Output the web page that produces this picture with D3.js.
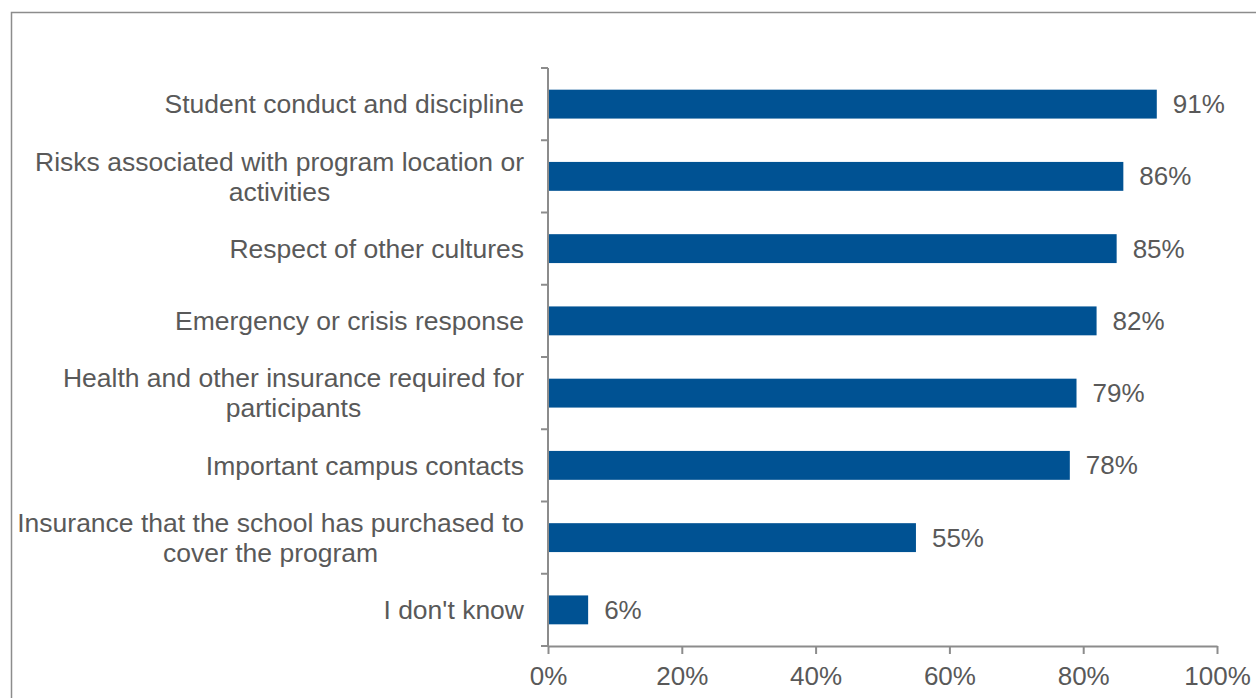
<!DOCTYPE html>
<html>
<head>
<meta charset="utf-8">
<script src="https://cdn.jsdelivr.net/npm/d3@7"></script>
<style>
  html, body { margin: 0; padding: 0; background: #fff; }
  svg { display: block; }
  text { font-family: "Liberation Sans", Arial, sans-serif; fill: #595959; }
</style>
</head>
<body>
<svg id="chart" width="1256" height="698"></svg>
<script>
// Topics covered (one array entry per line of the label)
const categories = [
  ["Student conduct and discipline"],
  ["Risks associated with program location or", "activities"],
  ["Respect of other cultures"],
  ["Emergency or crisis response"],
  ["Health and other insurance required for", "participants"],
  ["Important campus contacts"],
  ["Insurance that the school has purchased to", "cover the program"],
  ["I don't know"]
];
const values = [91, 86, 85, 82, 79, 78, 55, 6];
const tickValues = [0, 20, 40, 60, 80, 100];

const svg = d3.select("#chart");
const W = 1256, H = 698;
const margin = { left: 548, right: 39, top: 68, bottom: 52 };
const fontSize = 26;

// outer frame
svg.append("rect")
  .attr("x", 11.5).attr("y", 12.5)
  .attr("width", W).attr("height", H)
  .attr("fill", "none").attr("stroke", "#8c8c8c").attr("stroke-width", 1.5);

const x = d3.scaleLinear().domain([0, 100]).range([margin.left, W - margin.right]);
const y = d3.scaleBand()
  .domain(d3.range(categories.length))
  .range([margin.top, H - margin.bottom])
  .paddingInner(0.6).paddingOuter(0.3);

// bars
svg.append("g").selectAll("rect")
  .data(values)
  .join("rect")
  .attr("x", x(0))
  .attr("y", (d, i) => y(i))
  .attr("width", d => x(d) - x(0))
  .attr("height", y.bandwidth())
  .attr("fill", "#005293");

// value labels
svg.append("g").selectAll("text")
  .data(values)
  .join("text")
  .attr("x", d => x(d) + 16)
  .attr("y", (d, i) => y(i) + y.bandwidth() / 2)
  .attr("dy", "0.35em")
  .attr("font-size", fontSize)
  .text(d => d + "%");

// x axis
const xAxis = svg.append("g")
  .attr("transform", `translate(0,${H - margin.bottom})`)
  .call(d3.axisBottom(x).tickValues(tickValues).tickSize(8).tickSizeOuter(0)
    .tickFormat(d => d + "%"));
xAxis.select(".domain").attr("stroke", "#8c8c8c").attr("stroke-width", 2);
xAxis.selectAll(".tick line").attr("stroke", "#8c8c8c").attr("stroke-width", 2);
xAxis.selectAll(".tick text")
  .attr("font-size", fontSize).attr("font-family", "Liberation Sans, Arial, sans-serif")
  .attr("fill", "#595959").attr("y", 21).attr("dy", "0.71em");

// y axis line with category boundary ticks
const bounds = d3.range(categories.length + 1).map(i => margin.top + i * (H - margin.bottom - margin.top) / categories.length);
const yAxis = svg.append("g");
yAxis.append("line")
  .attr("x1", x(0)).attr("x2", x(0))
  .attr("y1", margin.top).attr("y2", H - margin.bottom)
  .attr("stroke", "#8c8c8c").attr("stroke-width", 2);
yAxis.selectAll("line.tk")
  .data(bounds)
  .join("line")
  .attr("class", "tk")
  .attr("x1", x(0) - 7).attr("x2", x(0))
  .attr("y1", d => d).attr("y2", d => d)
  .attr("stroke", "#8c8c8c").attr("stroke-width", 2);

// category labels: block right-aligned, lines centred within the block
const labelRight = 524;
const lineH = 30;
const labels = svg.append("g");
categories.forEach((lines, i) => {
  const cy = y(i) + y.bandwidth() / 2;
  const g = labels.append("g");
  const texts = lines.map((ln, j) => g.append("text")
    .attr("font-size", 26.5)
    .attr("text-anchor", "middle")
    .attr("y", cy + (j - (lines.length - 1) / 2) * lineH)
    .attr("dy", "0.35em")
    .text(ln));
  const maxW = d3.max(texts, t => t.node().getComputedTextLength());
  texts.forEach(t => t.attr("x", labelRight - maxW / 2));
});
</script>
</body>
</html>
